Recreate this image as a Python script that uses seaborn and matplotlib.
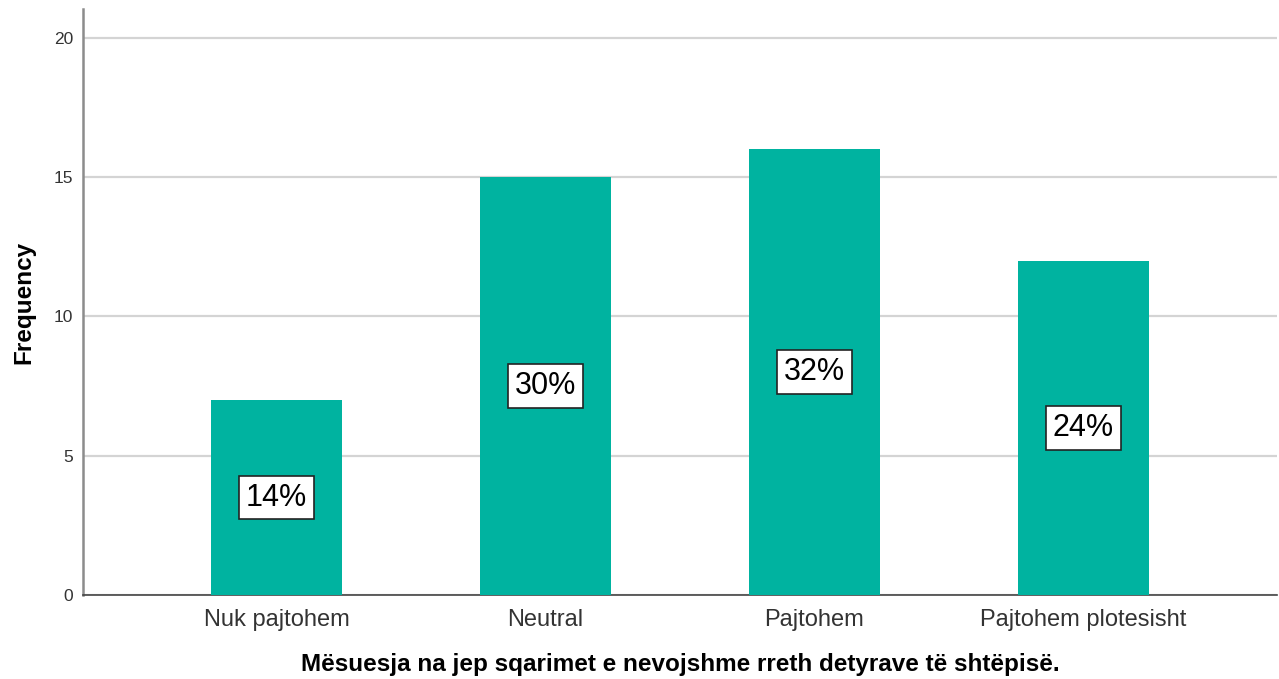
import matplotlib
matplotlib.use("Agg")
import matplotlib.pyplot as plt
import seaborn as sns
import pandas as pd

categories = ["Nuk pajtohem", "Neutral", "Pajtohem", "Pajtohem plotesisht"]
frequencies = [7, 15, 16, 12]
percent_labels = ["14%", "30%", "32%", "24%"]
y_ticks = [0, 5, 10, 15, 20]

sns.set_theme(style="white")
plt.rcParams['font.family'] = ['Liberation Sans', 'DejaVu Sans']

df = pd.DataFrame({"cat": categories, "freq": frequencies})

fig = plt.figure(figsize=(12.79, 6.79), dpi=100)
ax = fig.add_axes([83/1279, 1 - 595/679, (1277-83)/1279, (595-9)/679])

sns.barplot(data=df, x="cat", y="freq", color="#00b3a0", saturation=1,
            width=0.487, ax=ax, zorder=3, linewidth=0)

ax.set_ylim(0, 21.04)
ax.set_xlim(-0.72, 3.72)
ax.set_yticks(y_ticks)
ax.yaxis.grid(True, color="#d4d4d4", linewidth=1.6, zorder=0)
ax.set_axisbelow(True)

for i, (v, lab) in enumerate(zip(frequencies, percent_labels)):
    ax.text(i, v / 2, lab, ha="center", va="center", fontsize=22, color="black",
            zorder=5,
            bbox=dict(boxstyle="square,pad=0.22", facecolor="white", edgecolor="#222222", linewidth=1.2))

for s in ["top", "right"]:
    ax.spines[s].set_visible(False)
ax.spines["left"].set_color("#8c8c8c")
ax.spines["left"].set_linewidth(1.8)
ax.spines["bottom"].set_color("#444444")
ax.spines["bottom"].set_linewidth(1.2)

ax.tick_params(axis="y", length=0, labelsize=12.5, pad=7, colors="#333333")
ax.tick_params(axis="x", length=0, labelsize=17, pad=10, colors="#333333")

ax.set_xlabel("Mësuesja na jep sqarimet e nevojshme rreth detyrave të shtëpisë.",
              fontsize=17.5, fontweight="bold", labelpad=16, color="black")
ax.set_ylabel("Frequency", fontsize=17.5, fontweight="bold", labelpad=13, color="black")

fig.savefig("out.png", dpi=100)
